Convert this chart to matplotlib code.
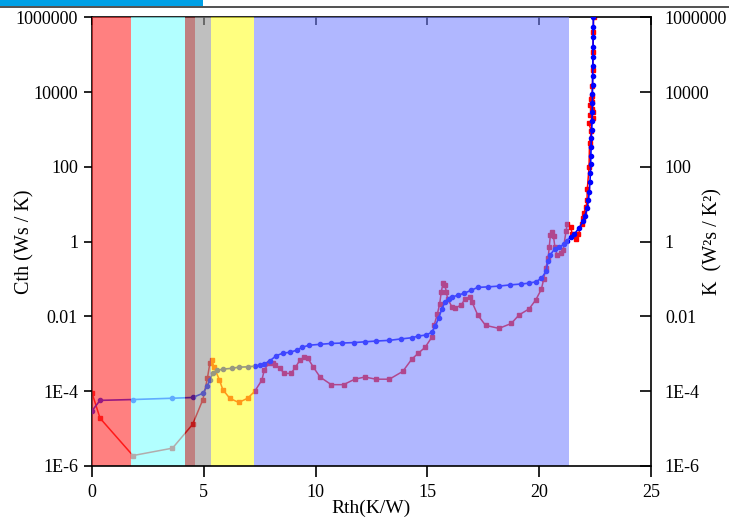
import numpy as np
import matplotlib
matplotlib.use("Agg")
import matplotlib.pyplot as plt
from matplotlib.patches import Rectangle
from matplotlib.lines import Line2D
from matplotlib.ticker import FixedLocator, NullLocator

plt.rcParams['font.family'] = ['Liberation Serif', 'DejaVu Serif']

# cumulative structure function: Rth (K/W) vs Cth (Ws/K)
rth_c = [0.0, 0.36, 1.83, 3.6, 4.5, 4.96, 5.16, 5.27, 5.4, 5.58, 5.85, 6.25, 6.56,
         6.96, 7.28, 7.5, 7.7, 7.95, 8.25, 8.55, 8.85, 9.15, 9.4, 9.7, 10.2, 10.7,
         11.2, 11.7, 12.2, 12.7, 13.3, 13.8, 14.3, 14.6, 14.95, 15.2, 15.35, 15.5,
         15.65, 15.8, 15.95, 16.1, 16.35, 16.65, 16.95, 17.25, 17.7, 18.2, 18.7,
         19.2, 19.55, 19.85, 20.1, 20.3, 20.4, 20.5, 20.7, 20.9, 21.1, 21.25, 21.4,
         21.57, 21.8, 21.95, 22.05, 22.15, 22.2, 22.24, 22.27, 22.29, 22.3, 22.31,
         22.32, 22.33, 22.35, 22.36, 22.37, 22.38, 22.38, 22.39, 22.39, 22.4, 22.4,
         22.41, 22.41, 22.42, 22.42]
cth = [3e-5, 5.7e-5, 6e-5, 6.5e-5, 6.8e-5, 8.8e-5, 1.4e-4, 2e-4, 3e-4, 3.6e-4, 3.9e-4,
       4.1e-4, 4.4e-4, 4.5e-4, 4.7e-4, 5e-4, 5.3e-4, 6.5e-4, 9e-4, 1.05e-3, 1.1e-3,
       1.25e-3, 1.5e-3, 1.7e-3, 1.8e-3, 1.9e-3, 1.95e-3, 2e-3, 2.1e-3, 2.2e-3, 2.3e-3,
       2.5e-3, 2.7e-3, 3e-3, 3.2e-3, 3.8e-3, 5.5e-3, 9e-3, 1.6e-2, 2.5e-2, 3e-2, 3.3e-2,
       3.7e-2, 4.2e-2, 5e-2, 6e-2, 6.2e-2, 6.5e-2, 7e-2, 7.4e-2, 7.8e-2, 8.5e-2, 0.105,
       0.16, 0.3, 0.45, 0.65, 0.72, 0.85, 1.07, 1.37, 1.6, 2.4, 3.5, 5, 8, 13, 22, 40,
       70, 120, 200, 350, 600, 1000, 1700, 3000, 5000, 9000, 1.6e4, 2.8e4, 5e4, 9e4,
       1.6e5, 3e5, 5.5e5, 1e6]

# differential structure function: Rth (K/W) vs K (W²s/K²)
rth_k = [0.0, 0.36, 1.83, 3.6, 4.5, 4.96, 5.16, 5.27, 5.36, 5.45, 5.7, 5.85, 6.16, 6.56,
         6.96, 7.28, 7.6, 7.7, 7.9, 8.1, 8.2, 8.4, 8.6, 8.9, 9.1, 9.3, 9.5, 9.65, 9.9,
         10.2, 10.7, 11.25, 11.75, 12.2, 12.7, 13.3, 13.9, 14.3, 14.6, 14.9, 15.2, 15.3,
         15.45, 15.55, 15.62, 15.7, 15.78, 15.85, 15.9, 16.1, 16.25, 16.5, 16.7, 16.9,
         17.0, 17.25, 17.6, 18.2, 18.75, 19.1, 19.55, 19.85, 20.1, 20.2, 20.3, 20.4,
         20.45, 20.5, 20.58, 20.64, 20.7, 20.8, 20.98, 21.07, 21.2, 21.25, 21.4, 21.48,
         21.65, 21.75, 21.9, 21.95, 22.0, 22.1, 22.14, 22.15, 22.23, 22.25, 22.33, 22.22,
         22.4, 22.28, 22.38, 22.25, 22.35, 22.42, 22.3, 22.36, 22.38, 22.4, 22.41, 22.42,
         22.43]
k_val = [9e-5, 1.9e-5, 1.9e-6, 3e-6, 1.3e-5, 6e-5, 2.2e-4, 5.6e-4, 7e-4, 4.5e-4, 2e-4,
         1.1e-4, 6.5e-5, 5e-5, 6.5e-5, 1e-4, 2e-4, 3.6e-4, 5.6e-4, 5.6e-4, 5e-4, 4.1e-4,
         3e-4, 3e-4, 4.4e-4, 6.8e-4, 8.2e-4, 7.7e-4, 4.4e-4, 2.4e-4, 1.5e-4, 1.5e-4,
         2.1e-4, 2.4e-4, 2.1e-4, 2.1e-4, 3.4e-4, 7.2e-4, 1.05e-3, 1.5e-3, 2.8e-3, 5.8e-3,
         1.2e-2, 2.2e-2, 4.5e-2, 8e-2, 7e-2, 4.5e-2, 3e-2, 1.8e-2, 1.7e-2, 2e-2, 3e-2,
         3.3e-2, 2.4e-2, 1.1e-2, 5.8e-3, 4.8e-3, 6.5e-3, 1.1e-2, 1.6e-2, 2.8e-2, 5.4e-2,
         0.1, 0.2, 0.37, 0.73, 1.5, 1.85, 1.4, 0.73, 0.45, 0.5, 0.6, 1.9, 2.9, 2.5, 1.6,
         1.2, 1.6, 2.9, 4.4, 6, 8.5, 13, 25, 100, 450, 900, 1500, 2000, 2500, 3500, 4500,
         5500, 3000, 6500, 8000, 1.5e4, 4e4, 1.2e5, 4e5, 1e6]

# highlighted Rth ranges (layers of the heat flow path)
band_edges = [0.0, 1.75, 4.15, 4.6, 5.3, 7.25, 21.35]
band_colors = ['#ff2b2b', '#8effff', '#952b2b', '#959595', '#ffff2b', '#7280ff']
band_alpha = [0.6, 0.68, 0.6, 0.6, 0.6, 0.56]

y_ticks = [1e-6, 1e-4, 1e-2, 1, 1e2, 1e4, 1e6]
y_labels = ['1E-6', '1E-4', '0.01', '1', '100', '10000', '1000000']
x_ticks = [0, 5, 10, 15, 20, 25]

fig = plt.figure(figsize=(7.29, 5.22), dpi=100)

# window strip along the top edge
fig.patches.append(Rectangle((0, 1 - 6 / 522), 203 / 729, 6 / 522, transform=fig.transFigure,
                             facecolor='#00a0e6', edgecolor='none'))
fig.lines.append(Line2D([0, 1], [1 - 7 / 522, 1 - 7 / 522], transform=fig.transFigure,
                        color='#333333', lw=1.2))

ax = fig.add_axes([0.1262, 0.1073, 0.7668, 0.8592])
ax.set_yscale('log')
ax.set_xlim(0, 25)
ax.set_ylim(1e-6, 1e6)

ax.plot(rth_c, cth, color='#0000ff', lw=1.2, marker='o', ms=3.0, zorder=3)
ax.plot(rth_k, k_val, color='#ff0000', lw=1.1, marker='s', ms=3.0, zorder=2)

for c0, c1, col, a in zip(band_edges[:-1], band_edges[1:], band_colors, band_alpha):
    ax.axvspan(c0, c1, color=col, alpha=a, lw=0, zorder=10)

for s in ax.spines.values():
    s.set_linewidth(1.2)
ax.spines['bottom'].set_zorder(11)
ax.spines['right'].set_visible(False)

ax.xaxis.set_major_locator(FixedLocator(x_ticks))
ax.xaxis.set_minor_locator(NullLocator())
ax.set_xticklabels([str(v) for v in x_ticks])
ax.yaxis.set_major_locator(FixedLocator(y_ticks))
ax.yaxis.set_minor_locator(NullLocator())
ax.set_yticklabels(y_labels)
ax.tick_params(axis='x', which='major', bottom=True, top=True, direction='out',
               length=8, width=1.2, labelsize=13, pad=5)
ax.tick_params(axis='y', which='major', left=True, right=False, direction='out',
               length=6, width=1.2, labelsize=13, pad=4)

# top ticks point inward
for t in ax.xaxis.get_major_ticks():
    t.tick2line.set_marker(3)
    t.tick2line.set_markersize(6)

ax.set_xlabel('Rth(K/W)', fontsize=14, labelpad=-1)
ax.set_ylabel('Cth (Ws / K)', fontsize=14.5)
ax.yaxis.set_label_coords(-0.102, 0.5)

ax2 = ax.twinx()
ax2.set_yscale('log')
ax2.set_ylim(1e-6, 1e6)
ax2.yaxis.set_major_locator(FixedLocator(y_ticks))
ax2.yaxis.set_minor_locator(NullLocator())
ax2.set_yticklabels(y_labels)
ax2.tick_params(axis='y', which='major', direction='in', length=8, width=1.2,
                labelsize=13, pad=10)
for side in ['left', 'top', 'bottom']:
    ax2.spines[side].set_visible(False)
ax2.spines['right'].set_linewidth(1.2)
ax2.set_ylabel('K  (W\u00b2s / K\u00b2)', fontsize=14.5)
ax2.yaxis.set_label_coords(1.093, 0.5)

fig.savefig('out.png', dpi=100)
